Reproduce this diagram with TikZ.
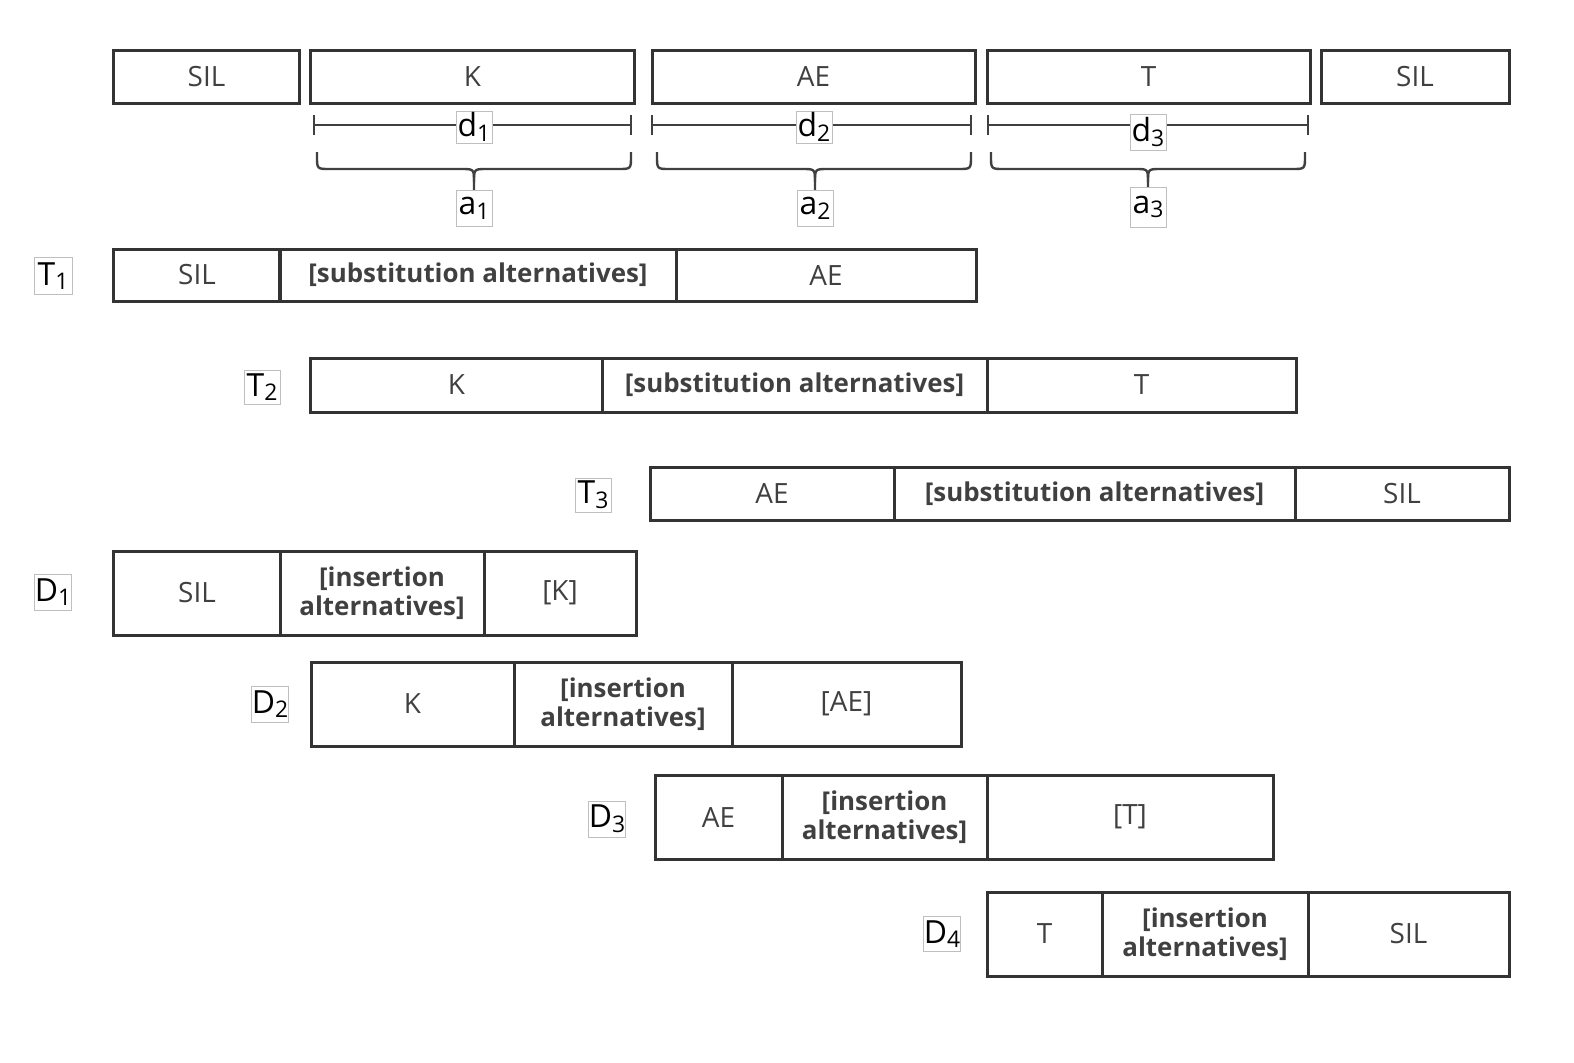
\documentclass[tikz,border=0pt]{standalone}
\usepackage{fontspec}
\setmainfont{Open Sans}
\begin{document}
\begin{tikzpicture}[x=0.5bp,y=-0.5bp,
  cell/.style={draw=black!80, line width=1.5bp, inner sep=0pt, align=center, font=\fontsize{14}{14.5}\selectfont, text=black!75},
  lab/.style={draw=black!25, line width=0.4pt, fill=white, inner sep=0pt, font=\fontsize{16}{17}\selectfont, text=black},
  bar/.style={draw=black!75, line width=1.2bp},
  brc/.style={draw=black!75, line width=1.2bp}]
\useasboundingbox (0,0) rectangle (1574,1062);
\newcommand\cellbox[6]{%
  \pgfmathsetmacro\cw{(#4-#2)*0.5}\pgfmathsetmacro\ch{(#5-#3)*0.5}%
  \node[cell, minimum width=\cw bp, minimum height=\ch bp] (#1) at ({(#2+#4)/2},{(#3+#5)/2}) {#6};}
\newcommand\sbx[1]{\raisebox{-0.28ex}{\fontsize{11.5}{11.5}\selectfont #1}}
\newcommand\alt[1]{{\bfseries\fontsize{13}{14.5}\selectfont #1}}
% top row
\cellbox{s0}{114}{50}{299}{103}{SIL}
\cellbox{s1}{311}{50}{634}{103}{K}
\cellbox{s2}{652}{50}{975}{103}{AE}
\cellbox{s3}{987}{50}{1310}{103}{T}
\cellbox{s4}{1321}{50}{1509}{103}{SIL}
% duration bars
\foreach \i/\xa/\xb in {1/314/631, 2/652/971, 3/988/1308}{
  \coordinate (dl\i) at (\xa,125);
  \coordinate (dr\i) at (\xb,125);
  \draw[bar] (\xa,115) -- (\xa,135);
  \draw[bar] (\xb,115) -- (\xb,135);
  \draw[bar] (dl\i) -- (dr\i);
}
\node[lab, minimum width=18bp, minimum height=16bp] (d1) at (474,127) {d\sbx{1}};
\node[lab, minimum width=18bp, minimum height=16bp] (d2) at (814,127) {d\sbx{2}};
\node[lab, minimum width=18bp, minimum height=18bp] (d3) at (1148,132) {d\sbx{3}};
% braces
\foreach \xa/\xb/\xm in {317/631/474, 657/971/815, 991/1305/1148}{
  \draw[brc] (\xa,152) -- (\xa,156) .. controls (\xa,169) .. ({\xa+13},169) -- ({\xm-13},169) .. controls (\xm,169) .. (\xm,182) -- (\xm,191);
  \draw[brc] (\xb,152) -- (\xb,156) .. controls (\xb,169) .. ({\xb-13},169) -- ({\xm+13},169) .. controls (\xm,169) .. (\xm,182);
}
\node[lab, minimum width=18bp, minimum height=18bp] (a1) at (474,208) {a\sbx{1}};
\node[lab, minimum width=18bp, minimum height=18bp] (a2) at (815,208) {a\sbx{2}};
\node[lab, minimum width=18bp, minimum height=20bp] (a3) at (1148,207) {a\sbx{3}};
% T rows
\node[lab, minimum width=19bp, minimum height=18.5bp] (T1) at (53,276) {T\sbx{1}};
\cellbox{t11}{114}{249}{280}{301}{SIL}
\cellbox{t12}{280}{249}{676}{301}{\alt{[substitution alternatives]}}
\cellbox{t13}{676}{249}{976}{301}{AE}
\node[lab, minimum width=18bp, minimum height=17bp] (T2) at (262,387) {T\sbx{2}};
\cellbox{t21}{311}{358}{602}{412}{K}
\cellbox{t22}{602}{358}{987}{412}{\alt{[substitution alternatives]}}
\cellbox{t23}{987}{358}{1296}{412}{T}
\node[lab, minimum width=18bp, minimum height=17bp] (T3) at (593,495) {T\sbx{3}};
\cellbox{t31}{650}{467}{894}{520}{AE}
\cellbox{t32}{894}{467}{1295}{520}{\alt{[substitution alternatives]}}
\cellbox{t33}{1295}{467}{1509}{520}{SIL}
% D rows
\node[lab, minimum width=18.5bp, minimum height=18bp] (D1) at (53,592) {D\sbx{1}};
\cellbox{d11}{114}{551}{280}{635}{SIL}
\cellbox{d12}{280}{551}{484}{635}{\alt{[insertion}\\\alt{alternatives]}}
\cellbox{d13}{484}{551}{636}{635}{[K]}
\node[lab, minimum width=18bp, minimum height=18bp] (D2) at (270,704) {D\sbx{2}};
\cellbox{d21}{311}{662}{514}{746}{K}
\cellbox{d22}{514}{662}{732}{746}{\alt{[insertion}\\\alt{alternatives]}}
\cellbox{d23}{732}{662}{961}{746}{[AE]}
\node[lab, minimum width=18bp, minimum height=18bp] (D3) at (607,819) {D\sbx{3}};
\cellbox{d31}{655}{775}{782}{859}{AE}
\cellbox{d32}{782}{775}{987}{859}{\alt{[insertion}\\\alt{alternatives]}}
\cellbox{d33}{987}{775}{1273}{859}{[T]}
\node[lab, minimum width=18.5bp, minimum height=17.5bp] (D4) at (942,934) {D\sbx{4}};
\cellbox{d41}{987}{892}{1102}{976}{T}
\cellbox{d42}{1102}{892}{1308}{976}{\alt{[insertion}\\\alt{alternatives]}}
\cellbox{d43}{1308}{892}{1509}{976}{SIL}
\end{tikzpicture}
\end{document}
